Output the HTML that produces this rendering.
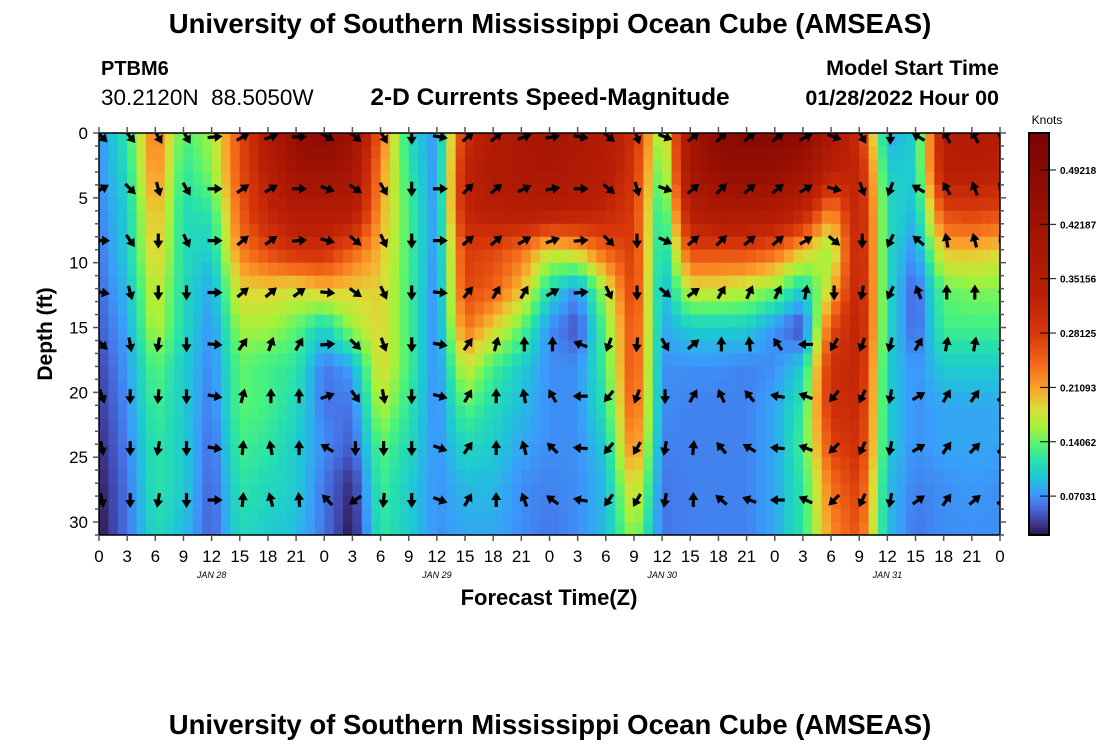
<!DOCTYPE html>
<html><head><meta charset="utf-8"><style>
body{margin:0;background:#fff;width:1100px;height:750px;overflow:hidden}
svg text{font-family:"Liberation Sans",sans-serif}
</style></head><body>
<svg id="chart" width="1100" height="750" xmlns="http://www.w3.org/2000/svg">
<text x="550" y="33" text-anchor="middle" font-size="27.5" font-weight="bold">University of Southern Mississippi Ocean Cube (AMSEAS)</text>
<text x="101" y="75" font-size="20" font-weight="bold">PTBM6</text>
<text x="101" y="105" font-size="22.5" xml:space="preserve">30.2120N  88.5050W</text>
<text x="550" y="105" text-anchor="middle" font-size="24.5" font-weight="bold">2-D Currents Speed-Magnitude</text>
<text x="999" y="75" text-anchor="end" font-size="21.5" font-weight="bold">Model Start Time</text>
<text x="999" y="105" text-anchor="end" font-size="21.5" font-weight="bold">01/28/2022 Hour 00</text>
<text transform="translate(52,334) rotate(-90)" text-anchor="middle" font-size="21" font-weight="bold">Depth (ft)</text>
<text x="549" y="605" text-anchor="middle" font-size="22" font-weight="bold">Forecast Time(Z)</text>
<text x="1047" y="124" text-anchor="middle" font-size="12">Knots</text>
<text x="550" y="734" text-anchor="middle" font-size="27.5" font-weight="bold">University of Southern Mississippi Ocean Cube (AMSEAS)</text>
<defs><clipPath id="pc"><rect x="99" y="133" width="901" height="402"/></clipPath></defs>
<g id="cells" clip-path="url(#pc)"></g>
<g id="arrows" clip-path="url(#pc)"></g>
<g id="axes"></g>
<g id="cbar"></g>
</svg>
<script>
const times = [0,3,6,9,12,15,18,21,24,27,30,33,36,39,42,45,48,51,54,57,60,63,66,69,72,75,78,81,84,87,90,93,96];
const depths = [0,3,6,9,12,15,18,21,24,27,31];
const speed = [
[0.07,0.07,0.065,0.06,0.055,0.05,0.04,0.035,0.03,0.025,0.02],
[0.12,0.11,0.1,0.1,0.09,0.08,0.075,0.07,0.065,0.06,0.06],
[0.24,0.23,0.21,0.2,0.18,0.17,0.14,0.13,0.12,0.12,0.11],
[0.13,0.12,0.11,0.11,0.11,0.11,0.1,0.1,0.1,0.1,0.09],
[0.16,0.15,0.12,0.1,0.08,0.07,0.065,0.06,0.055,0.05,0.05],
[0.26,0.26,0.25,0.23,0.19,0.16,0.14,0.14,0.13,0.12,0.11],
[0.36,0.34,0.32,0.27,0.19,0.16,0.13,0.13,0.12,0.11,0.1],
[0.45,0.42,0.36,0.3,0.18,0.14,0.12,0.11,0.1,0.1,0.09],
[0.48,0.43,0.36,0.3,0.2,0.1,0.06,0.06,0.07,0.06,0.06],
[0.42,0.4,0.36,0.25,0.19,0.16,0.08,0.06,0.05,0.03,0.02],
[0.24,0.22,0.21,0.2,0.19,0.19,0.19,0.17,0.14,0.13,0.12],
[0.11,0.12,0.13,0.13,0.13,0.13,0.13,0.12,0.11,0.1,0.1],
[0.07,0.07,0.07,0.07,0.065,0.065,0.065,0.065,0.07,0.07,0.07],
[0.3,0.32,0.32,0.28,0.27,0.24,0.18,0.14,0.11,0.09,0.08],
[0.36,0.37,0.34,0.27,0.25,0.19,0.13,0.11,0.1,0.09,0.08],
[0.38,0.38,0.35,0.24,0.2,0.14,0.1,0.09,0.08,0.07,0.07],
[0.4,0.39,0.35,0.18,0.11,0.07,0.07,0.07,0.07,0.065,0.06],
[0.38,0.37,0.34,0.2,0.07,0.045,0.07,0.07,0.07,0.07,0.07],
[0.36,0.35,0.32,0.25,0.17,0.14,0.13,0.12,0.1,0.09,0.09],
[0.3,0.29,0.28,0.28,0.28,0.27,0.27,0.26,0.24,0.2,0.16],
[0.14,0.12,0.1,0.09,0.08,0.08,0.07,0.07,0.065,0.06,0.06],
[0.4,0.4,0.35,0.27,0.18,0.1,0.07,0.065,0.065,0.065,0.065],
[0.48,0.45,0.38,0.27,0.18,0.1,0.07,0.065,0.065,0.065,0.065],
[0.5,0.46,0.38,0.27,0.17,0.1,0.065,0.065,0.065,0.065,0.065],
[0.49,0.45,0.37,0.25,0.15,0.07,0.07,0.08,0.08,0.08,0.08],
[0.48,0.42,0.33,0.2,0.1,0.04,0.1,0.12,0.13,0.12,0.12],
[0.38,0.33,0.22,0.15,0.19,0.26,0.3,0.3,0.27,0.24,0.22],
[0.3,0.32,0.33,0.33,0.33,0.33,0.32,0.31,0.3,0.28,0.26],
[0.08,0.1,0.11,0.11,0.11,0.11,0.1,0.1,0.1,0.09,0.09],
[0.1,0.1,0.09,0.07,0.05,0.05,0.07,0.07,0.07,0.065,0.06],
[0.35,0.34,0.27,0.2,0.14,0.13,0.1,0.08,0.08,0.07,0.07],
[0.36,0.34,0.28,0.2,0.15,0.13,0.1,0.08,0.08,0.075,0.07],
[0.36,0.33,0.27,0.19,0.15,0.13,0.1,0.08,0.08,0.07,0.07]
];
const arrowDepths = [0,4,8,12,16,20,24,28];
const arrowDir = [
[-45,30,0,-10,-45,-70,-80,-80],
[-50,-45,-55,-75,-80,-90,-90,-90],
[-60,-75,-90,-90,-100,-95,-100,-100],
[-60,-60,-65,-90,-90,-90,-90,-90],
[5,0,0,0,-5,-10,-10,0],
[30,35,40,40,55,75,85,85],
[20,30,35,40,70,90,100,105],
[0,0,5,35,60,90,90,95],
[-30,-20,-15,-5,5,20,150,135],
[-40,-35,-40,-35,-45,-55,-90,215],
[-60,-60,-65,-65,-70,-80,-90,-95],
[-90,-90,-90,-90,-90,-90,-90,-90],
[-10,0,0,-5,-10,-15,-20,-20],
[40,45,40,50,55,60,55,60],
[40,40,40,60,75,90,90,90],
[20,25,30,60,90,100,105,110],
[10,10,20,30,90,120,135,145],
[-10,0,5,5,160,180,175,170],
[-40,-40,-45,-65,-110,-130,-130,-125],
[-70,-75,-90,-90,-95,-110,-120,-120],
[-20,-20,-25,-40,-60,-90,-100,-100],
[40,40,40,35,40,60,85,90],
[45,45,45,60,90,115,130,140],
[40,40,40,65,95,130,150,160],
[40,40,40,65,125,170,175,180],
[30,30,30,80,180,160,160,155],
[-20,-15,-40,-90,-120,-130,-135,-135],
[-60,-70,-90,-100,-110,-115,-115,-115],
[-90,-110,-115,-115,-105,-100,-100,-100],
[150,150,140,110,60,30,30,35],
[120,120,100,90,80,60,55,55],
[120,110,105,90,80,55,45,40],
[140,130,120,90,60,40,40,35]
];
const xTickLabels = ["0","3","6","9","12","15","18","21","0","3","6","9","12","15","18","21","0","3","6","9","12","15","18","21","0","3","6","9","12","15","18","21","0"];
const yTickLabels = ["0","5","10","15","20","25","30"];
const dayLabels = ["JAN 28","JAN 29","JAN 30","JAN 31"];
const cbarTicks = [0.07031,0.14062,0.21093,0.28125,0.35156,0.42187,0.49218];

const NS="http://www.w3.org/2000/svg";
const X0=99,X1=1000,Y0=133,Y1=535;
const xs=t=>X0+(X1-X0)*t/96;
const ys=d=>Y0+(Y1-Y0)*d/31;
const stops=[[0.02,"#30123b"],[0.04,"#4043a8"],[0.06,"#4675e8"],[0.075,"#3a9cfb"],[0.095,"#1fc6d6"],[0.115,"#27dfae"],[0.135,"#4cf37a"],[0.16,"#a6f23a"],[0.185,"#dcdc36"],[0.21,"#fba32c"],[0.24,"#f46b1a"],[0.28,"#d8380a"],[0.33,"#bb2006"],[0.42,"#a01303"],[0.54,"#7a0403"]];
function hex(h){return [1,3,5].map(i=>parseInt(h.substr(i,2),16));}
function cmap(v){
  if(v<=stops[0][0])return stops[0][1];
  for(let i=1;i<stops.length;i++){if(v<=stops[i][0]){const a=hex(stops[i-1][1]),b=hex(stops[i][1]);const f=(v-stops[i-1][0])/(stops[i][0]-stops[i-1][0]);return "rgb("+a.map((c,k)=>Math.round(c+(b[k]-c)*f)).join(",")+")";}}
  return stops[stops.length-1][1];
}
function seg(arr,v){for(let i=0;i<arr.length-1;i++){if(v<=arr[i+1])return [i,(v-arr[i])/(arr[i+1]-arr[i])];}return [arr.length-2,1];}
function sample(t,d){const [i,fx]=seg(times,t);const [j,fy]=seg(depths,d);
  const a=speed[i][j],b=speed[i+1][j],c=speed[i][j+1],e=speed[i+1][j+1];
  return (a*(1-fx)+b*fx)*(1-fy)+(c*(1-fx)+e*fx)*fy;}
function mk(tag,attrs,parent){const el=document.createElementNS(NS,tag);for(const k in attrs)el.setAttribute(k,attrs[k]);parent.appendChild(el);return el;}

const cells=document.getElementById('cells');
for(let h=0;h<96;h++){for(let d=0;d<31;d++){
  const r=mk('rect',{x:xs(h).toFixed(2),y:ys(d).toFixed(2),width:(xs(h+1)-xs(h)+0.6).toFixed(2),height:(ys(d+1)-ys(d)+0.6).toFixed(2),fill:cmap(sample(h+0.5,d+0.5))},cells);
  
  
}}
const arrows=document.getElementById('arrows');
times.forEach((t,i)=>{arrowDepths.forEach((d,j)=>{
  const g=mk('g',{transform:`translate(${(xs(t)+3).toFixed(1)},${(ys(d+0.3)).toFixed(1)}) rotate(${-arrowDir[i][j]})`},arrows);
  
  
  mk('line',{x1:-7,y1:0,x2:2,y2:0,stroke:'#000','stroke-width':3.2},g);
  mk('path',{d:'M0,-5 L8,0 L0,5 Z',fill:'#000'},g);
});});

const axes=document.getElementById('axes');
mk('rect',{x:X0,y:Y0,width:X1-X0,height:Y1-Y0,fill:'none',stroke:'#000','stroke-width':1.5},axes);
for(let d=0;d<=31;d++){const y=ys(d);const L=d%5==0?6:4;
  mk('line',{x1:X0-L,y1:y,x2:X0,y2:y,stroke:'#555','stroke-width':1.5},axes);
  mk('line',{x1:X1,y1:y,x2:X1+L,y2:y,stroke:'#555','stroke-width':1.5},axes);}
yTickLabels.forEach((s,i)=>{const t=mk('text',{x:88,y:ys(i*5)+6,'text-anchor':'end','font-size':17},axes);t.textContent=s;
  
  });
xTickLabels.forEach((s,i)=>{const x=xs(i*3);
  mk('line',{x1:x,y1:Y0-6,x2:x,y2:Y0,stroke:'#555','stroke-width':1.5},axes);
  mk('line',{x1:x,y1:Y1,x2:x,y2:Y1+6,stroke:'#555','stroke-width':1.5},axes);
  const t=mk('text',{x:x,y:562,'text-anchor':'middle','font-size':17},axes);t.textContent=s;
  
  });
dayLabels.forEach((s,i)=>{const t=mk('text',{x:xs(12+24*i),y:578,'text-anchor':'middle','font-size':9,'font-style':'italic','font-family':'Liberation Mono, monospace'},axes);t.textContent=s;
  
  });

const cbar=document.getElementById('cbar');
const CB0=133,CB1=535,VMIN=0.02,VMAX=0.54;
const cy=v=>CB1-(v-VMIN)/(VMAX-VMIN)*(CB1-CB0);
for(let k=0;k<200;k++){const v0=VMIN+(VMAX-VMIN)*k/200;
  const r=mk('rect',{x:1029,y:(cy(v0+(VMAX-VMIN)/200)).toFixed(2),width:20,height:((CB1-CB0)/200+0.6).toFixed(2),fill:cmap(v0+(VMAX-VMIN)/400)},cbar);
  
  }
mk('rect',{x:1029,y:CB0,width:20,height:CB1-CB0,fill:'none',stroke:'#000','stroke-width':2},cbar);
cbarTicks.forEach(v=>{const y=cy(v);
  mk('line',{x1:1040,y1:y,x2:1056,y2:y,stroke:'#000','stroke-width':1},cbar);
  const t=mk('text',{x:1060,y:y+4,'font-size':10,'font-weight':'bold'},cbar);t.textContent=v.toFixed(5);
  
  });
</script>
</body></html>
